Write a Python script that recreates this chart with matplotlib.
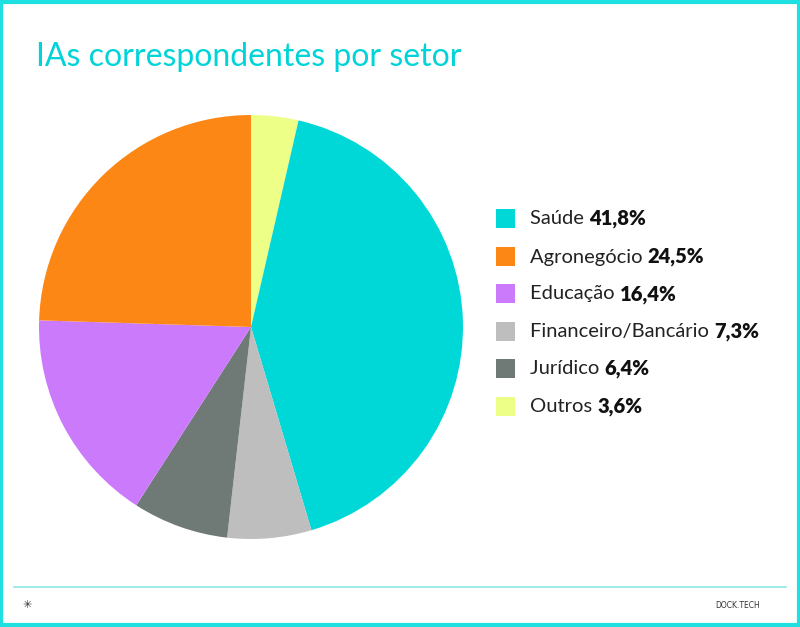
import matplotlib
matplotlib.use("Agg")
import matplotlib.pyplot as plt
from matplotlib.patches import Rectangle

# Datos del grafico
setores = ["Saúde", "Agronegócio", "Educação", "Financeiro/Bancário", "Jurídico", "Outros"]
porcentagens = [41.8, 24.5, 16.4, 7.3, 6.4, 3.6]
rotulos = ["41,8%", "24,5%", "16,4%", "7,3%", "6,4%", "3,6%"]
cores_legenda = ["#00d8d8", "#fd8714", "#cc7afc", "#bebebe", "#6f7a77", "#eeff88"]

# Ordem das fatias no sentido horario a partir do topo (como na imagem)
ordem_pizza = ["Outros", "Saúde", "Jurídico", "Financeiro/Bancário", "Educação", "Agronegócio"]
cores_pizza = ["#eeff88", "#00d8d8", "#bebebe", "#6f7a77", "#cc7afc", "#fd8714"]
valores_pizza = [porcentagens[setores.index(s)] for s in ordem_pizza]

ciano = "#00d4d8"

fig = plt.figure(figsize=(8, 6.27), dpi=100)
fig.patch.set_facecolor("white")

# Moldura
fig.patches.append(Rectangle((0.0015, 0.0025), 0.997, 0.995, transform=fig.transFigure,
                             fill=False, edgecolor="#1ee0e0", linewidth=3))
# Linha do rodape
fig.add_artist(plt.Line2D([14 / 800, 786 / 800], [1 - 587 / 627, 1 - 587 / 627],
                          color="#8ee8e8", linewidth=1.2))

# Titulo
fig.text(36 / 800, 1 - 66 / 627, "IAs correspondentes por setor", color=ciano,
         fontsize=23, family="Lato", va="baseline")

# Pizza
cx, cy, r = 251 / 800, 1 - 327 / 627, 212
w, h = 2 * r / 800, 2 * r / 627
ax = fig.add_axes([cx - w / 2, cy - h / 2, w, h])
ax.pie(valores_pizza, colors=cores_pizza, startangle=90, counterclock=False,
       wedgeprops={"linewidth": 0, "antialiased": True})
ax.set_xlim(-1, 1)
ax.set_ylim(-1, 1)
ax.set_aspect("equal")
ax.axis("off")

# Legenda
fig.canvas.draw()
renderer = fig.canvas.get_renderer()
y_linhas = [219, 257, 294, 332, 369, 407]
for nome, rot, cor, yl in zip(setores, rotulos, cores_legenda, y_linhas):
    y = 1 - yl / 627
    fig.patches.append(Rectangle((496 / 800, y - 9 / 627), 19 / 800, 19 / 627,
                                 transform=fig.transFigure, facecolor=cor, edgecolor="none"))
    t = fig.text(530 / 800, y, nome + " ", fontsize=14.5, family="Lato",
                 color="#222222", va="center")
    bb = t.get_window_extent(renderer)
    fig.text(bb.x1 / 800, y, rot, fontsize=14.5, family="Lato", fontweight="heavy",
             color="#111111", va="center")

# Rodape
fig.text(27 / 800, 1 - 605 / 627, "✳", fontsize=8, color="#333333", ha="center", va="center")
fig.text(760 / 800, 1 - 605 / 627, "DOCK.TECH", fontsize=5.5, color="#333333",
         ha="right", va="center", family="DejaVu Sans")

fig.savefig("out.png", dpi=100, facecolor="white")
